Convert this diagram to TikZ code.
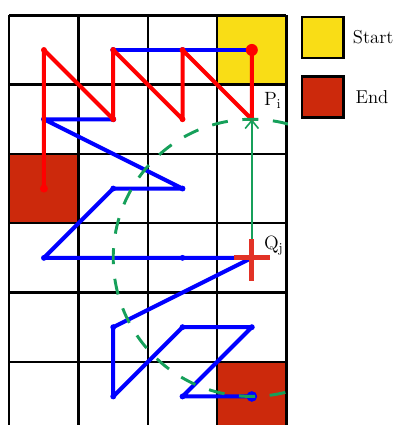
\documentclass[tikz,border=0pt]{standalone}
\usepackage{xcolor}
\usepackage{tikz}
\usetikzlibrary{arrows.meta,positioning}
\definecolor{startc}{RGB}{249,221,22}
\definecolor{endc}{RGB}{204,41,12}
\definecolor{arcc}{RGB}{22,160,90}
\definecolor{crossc}{RGB}{226,50,38}

\begin{document}
\begin{tikzpicture}[x=52pt,y=-52pt,
    cell/.style={line width=1.8pt},
    redpath/.style={red,line width=3pt,line join=round},
    bluepath/.style={blue,line width=3pt,line join=round},
    legbox/.style={draw,line width=1.8pt,minimum size=31pt,inner sep=0pt},
    lbl/.style={font=\fontsize{14}{16}\selectfont,inner sep=1pt}]
  \useasboundingbox (-0.134,-0.221) rectangle (5.58,5.912);
  % cells
  \fill[startc] (3,0) rectangle (4,1);
  \fill[endc] (0,2) rectangle (1,3);
  \fill[endc] (3,5) rectangle (4,5.912);
  \foreach \x in {0,...,4} \draw[cell] (\x,0) -- (\x,5.912);
  \foreach \y in {0,...,5} \draw[cell] (0,\y) -- (4,\y);
  \foreach \i in {0,...,3}{
    \foreach \j in {0,...,5}{
      \coordinate (c\i\j) at (\i+.5,\j+.5);}}
  % paths
  \draw[bluepath] (c30) -- (c10);
  \draw[bluepath] (c11) -- (c01) -- (c22) -- (c12) -- (c03) -- (c33) -- (c14)
    -- (c15) -- (c24) -- (c34) -- (c25) -- (c35);
  \foreach \p in {10,20,11,01,22,12,03,23,14,15,24,34,25}
    \fill[blue] (c\p) circle (2.2pt);
  \fill[blue] (c35) circle (4pt);
  \draw[redpath] (c30) -- (c31) -- (c20) -- (c21) -- (c10) -- (c11) -- (c00) -- (c02);
  \foreach \p in {31,20,21,10,11,00}
    \fill[red] (c\p) circle (2.2pt);
  \fill[red] (c30) circle (4.5pt);
  \fill[red] (c02) circle (3pt);
  % circle round Q
  \begin{scope}
    \clip (0,-0.3) rectangle (4.02,5.912);
    \draw[arcc,line width=2.2pt,dash pattern=on 12pt off 11pt] (c33) circle[radius=2];
  \end{scope}
  \draw[arcc,line width=1.2pt,-{Straight Barb[length=6pt,width=10pt]}] (c33) -- (c31);
  \draw[crossc,line width=3.8pt] ([xshift=-13.5pt]c33) -- ([xshift=13.5pt]c33)
    ([yshift=14pt]c33) -- ([yshift=-17pt]c33);
  \node[lbl,above right=7pt and 8pt of c31] (lblP) {$\mathrm{P}_{\mathrm{i}}$};
  \node[lbl,above right=1pt and 8pt of c33] (lblQ) {$\mathrm{Q}_{\mathrm{j}}$};
  % legend
  \node[legbox,fill=startc] (startbox) at (4.525,0.32) {};
  \node[legbox,fill=endc] (endbox) at (4.525,1.179) {};
  \node[lbl,right=5pt of startbox] (startlbl) {Start};
  \node[lbl,right=7pt of endbox] (endlbl) {End};
\end{tikzpicture}
\end{document}
